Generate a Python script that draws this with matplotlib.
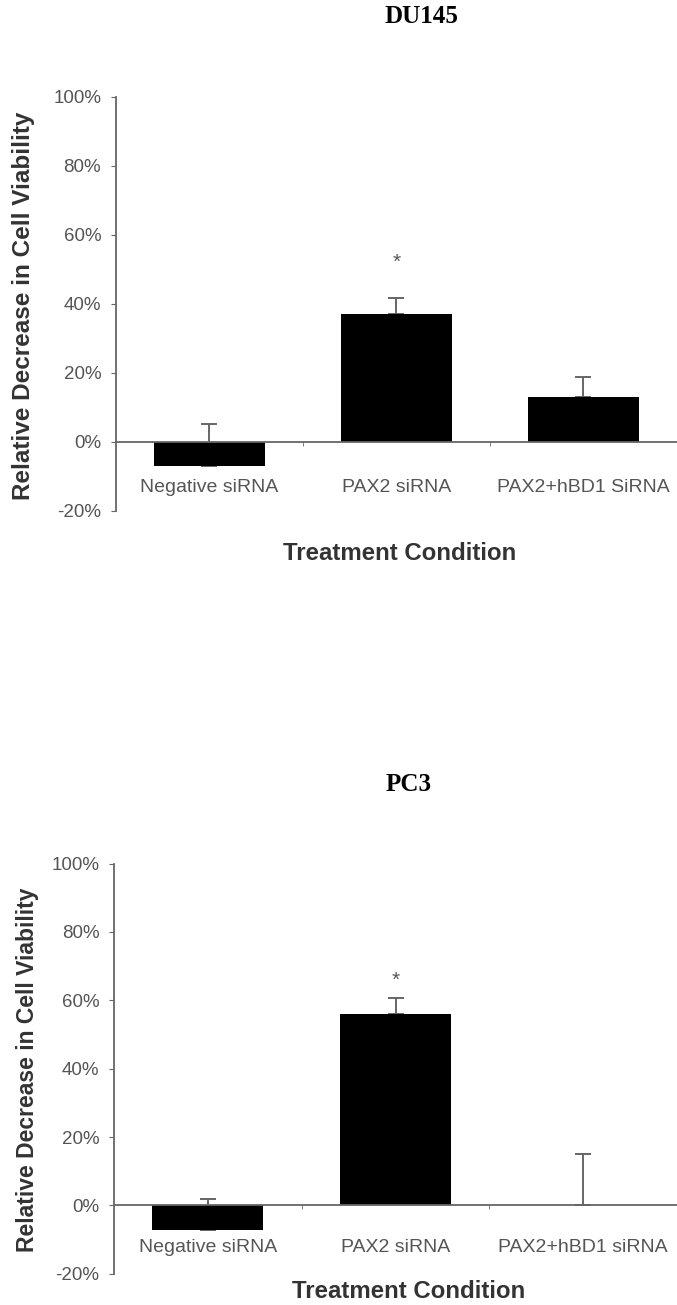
#!/usr/bin/env python
# two bar panels: relative decrease in cell viability, DU145 and PC3

import matplotlib
matplotlib.use("Agg")
import matplotlib.pyplot as plt
import numpy as np

plt.rcParams['font.family'] = ['Liberation Sans', 'DejaVu Sans']

# data (percent)
du145_labels = ["Negative siRNA", "PAX2 siRNA", "PAX2+hBD1 SiRNA"]
du145_mean = [-7.0, 37.0, 12.9]
du145_err = [12.0, 4.6, 5.8]
du145_star = 52.0

pc3_labels = ["Negative siRNA", "PAX2 siRNA", "PAX2+hBD1 siRNA"]
pc3_mean = [-7.1, 56.1, 0.0]
pc3_err = [9.1, 4.5, 15.1]
pc3_star = 65.8

yticks = [-20, 0, 20, 40, 60, 80, 100]
grey = "#555555"

fig = plt.figure(figsize=(6.77, 13.05), dpi=100)


def panel(ax, labels, mean, err, star, label_y):
    x = np.arange(len(labels))
    ax.errorbar(x, mean, yerr=[np.zeros(len(err)), err], fmt="none",
                ecolor="#666666", elinewidth=1.4, capsize=6, capthick=1.4, zorder=1)
    ax.bar(x, mean, width=0.59, color="black", linewidth=0, zorder=2)
    ax.text(1, star, "*", ha="center", va="center", fontsize=15, color=grey)
    for i, lab in enumerate(labels):
        ax.text(x[i], label_y, lab, ha="center", va="center", fontsize=14, color=grey)
    ax.set_xlim(-0.5, 2.5)
    ax.set_ylim(-20, 100)
    ax.set_yticks(yticks)
    ax.set_yticklabels([str(t) + "%" for t in yticks])
    ax.spines["top"].set_visible(False)
    ax.spines["right"].set_visible(False)
    ax.spines["bottom"].set_position(("data", 0))
    ax.spines["bottom"].set_color("#666666")
    ax.spines["left"].set_color("#666666")
    ax.spines["bottom"].set_linewidth(1.3)
    ax.spines["left"].set_linewidth(1.3)
    ax.set_xticks([])
    ax.set_xticks([0.5, 1.5], minor=True)
    ax.tick_params(axis="x", which="minor", direction="out", length=3, color="#666666")
    ax.tick_params(axis="y", direction="out", length=3.6, pad=7, color="#666666",
                   labelsize=13.5, labelcolor=grey)


ax1 = fig.add_axes([0.1713, 0.6088, 0.8287, 0.3171])
panel(ax1, du145_labels, du145_mean, du145_err, du145_star, -13.2)
ax2 = fig.add_axes([0.1684, 0.0240, 0.8316, 0.3142])
panel(ax2, pc3_labels, pc3_mean, pc3_err, pc3_star, -12.4)

fig.text(0.622, 0.987, "DU145", ha="center", va="center", fontsize=18,
         fontweight="bold", family="Liberation Serif")
fig.text(0.603, 0.399, "PC3", ha="center", va="center", fontsize=18,
         fontweight="bold", family="Liberation Serif")

fig.text(0.590, 0.576, "Treatment Condition", ha="center", va="center",
         fontsize=17.3, fontweight="bold", color="#333333")
fig.text(0.604, 0.010, "Treatment Condition", ha="center", va="center",
         fontsize=17.3, fontweight="bold", color="#333333")

fig.text(0.035, 0.7655, "Relative Decrease in Cell Viability", rotation=90,
         ha="center", va="center", fontsize=17.5, fontweight="bold", color="#333333")
fig.text(0.040, 0.180, "Relative Decrease in Cell Viability", rotation=90,
         ha="center", va="center", fontsize=16.5, fontweight="bold", color="#333333")

plt.savefig("out.png", dpi=100)
plt.close(fig)
